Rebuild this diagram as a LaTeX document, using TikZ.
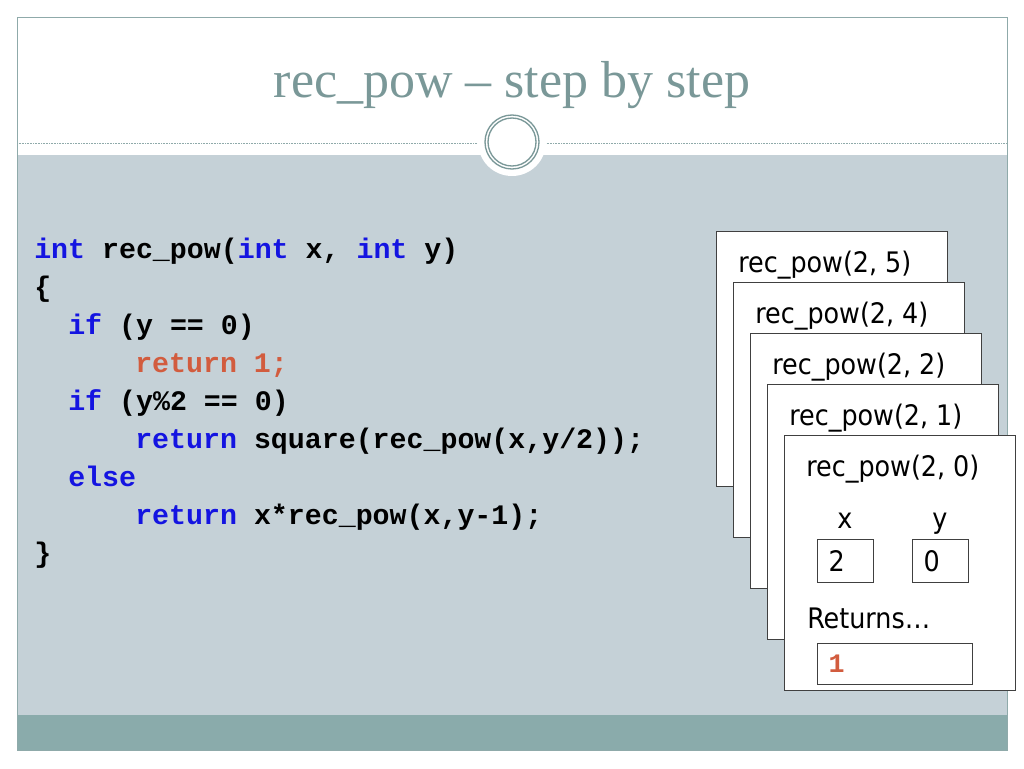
\documentclass[tikz,border=0pt]{standalone}
\usepackage{fontspec}
\setmainfont{Liberation Serif}
\setsansfont{DejaVu Sans Condensed}
\setmonofont{Liberation Mono}
\usepackage{tikz}
\usetikzlibrary{positioning}

\definecolor{titleteal}{RGB}{122,152,152}
\definecolor{framegray}{RGB}{143,170,170}
\definecolor{bodygray}{RGB}{197,209,215}
\definecolor{footteal}{RGB}{138,171,171}
\definecolor{kwblue}{RGB}{20,20,225}
\definecolor{retred}{RGB}{210,92,62}

\newcommand{\kw}[1]{\textcolor{kwblue}{#1}}

\begin{document}
\begin{tikzpicture}[
    x=0.75pt, y=-0.75pt,
    codenode/.style={anchor=base west, inner sep=0pt, font=\ttfamily\bfseries\fontsize{21.2}{21.2}\selectfont},
    framenode/.style={draw=black!75, line width=0.75pt, fill=white, anchor=north west, inner sep=0pt, minimum width=173.25pt, minimum height=191.25pt},
    labelnode/.style={inner sep=0pt, font=\sffamily\fontsize{21.2}{21.2}\selectfont},
    valuenode/.style={draw=black!75, line width=0.75pt, fill=white, inner xsep=8.25pt, inner ysep=0pt, align=left, font=\sffamily\fontsize{21.2}{21.2}\selectfont},
    ]

    \useasboundingbox (0,0) rectangle (1024,768);
    \fill[white] (0,0) rectangle (1024,768);

    % slide background
    \fill[bodygray] (17,155) rectangle (1007,715);
    \fill[footteal] (17,715) rectangle (1007,750);
    \draw[framegray, line width=0.6pt, dash pattern=on 0.6pt off 0.6pt] (17,143) -- (1007,143);
    \fill[white] (512,142) circle[radius=25.5pt];
    \draw[titleteal, line width=1pt] (512,142) circle[radius=20.25pt];
    \draw[titleteal, line width=1pt] (512,142) circle[radius=18pt];
    \draw[framegray, line width=0.75pt] (17,17) rectangle (1007,750);

    \node[anchor=base, inner sep=0pt, text=titleteal, font=\fontsize{39}{39}\selectfont] (title) at (512,97) {rec\_pow – step by step};

    % code
    \node[codenode] (c0) at (34,258) {\kw{int} rec\_pow(\kw{int} x, \kw{int} y)};
    \node[codenode] (c1) at (34,296) {\{};
    \node[codenode] (c2) at (68,334) {\kw{if} (y == 0)};
    \node[codenode] (c3) at (135,372) {\textcolor{retred}{return 1;}};
    \node[codenode] (c4) at (68,410) {\kw{if} (y\%2 == 0)};
    \node[codenode] (c5) at (135,448) {\kw{return} square(rec\_pow(x,y/2));};
    \node[codenode] (c6) at (68,486) {\kw{else}};
    \node[codenode] (c7) at (135,524) {\kw{return} x*rec\_pow(x,y-1);};
    \node[codenode] (c8) at (34,562) {\}};

    % stack of calls
    \foreach \n [count=\i from 0] in {5,4,2,1,0} {
        \node[framenode] (f\i) at (716+17*\i, 231+51*\i) {};
        \node[labelnode, anchor=base west] (t\i) at ([shift={(22,41)}]f\i.north west) {rec\_pow(2, \n)};
    }

    \node[labelnode, anchor=base] (xlabel) at (845,528) {x};
    \node[labelnode, anchor=base] (ylabel) at (940,528) {y};
    \node[valuenode, anchor=north west, text width=25.5pt, minimum height=32.25pt] (xval) at (817,539) {2};
    \node[valuenode, anchor=north west, text width=25.5pt, minimum height=32.25pt] (yval) at (912,539) {0};
    \node[labelnode, anchor=base west] (ret) at (807,628) {Returns…};
    \node[valuenode, anchor=north west, text width=99.75pt, minimum height=30.75pt, font=\ttfamily\bfseries\fontsize{20}{20}\selectfont, text=retred] (retval) at (817,643) {1};

\end{tikzpicture}
\end{document}
